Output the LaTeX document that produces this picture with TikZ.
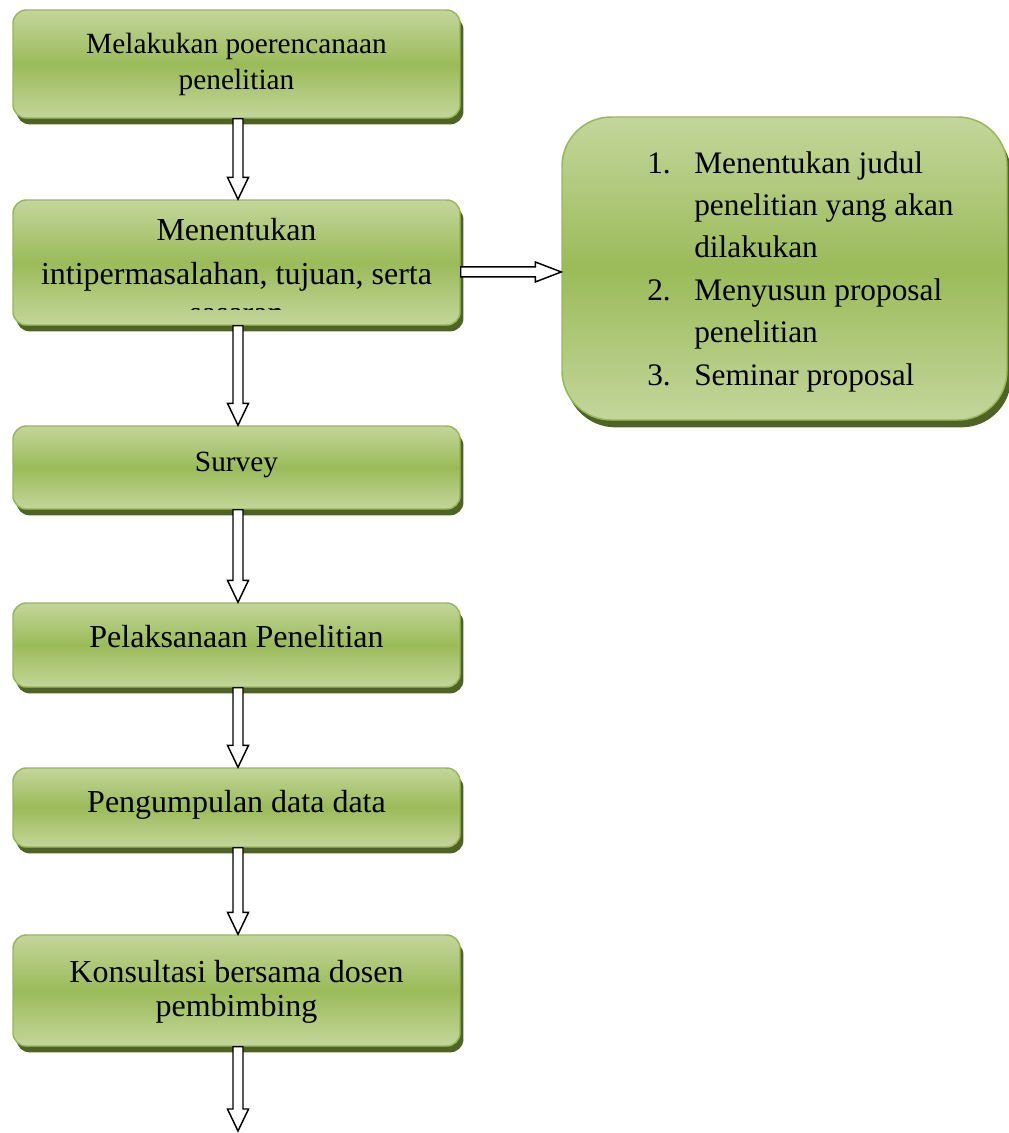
\documentclass[tikz,border=0pt]{standalone}
\usepackage{fontspec}
\setmainfont{Liberation Serif}
\usetikzlibrary{calc,shadows}
\definecolor{gLight}{HTML}{C3D69B}
\definecolor{gMid}{HTML}{9BBB59}
\definecolor{gEdge}{HTML}{97B854}
\definecolor{gShadow}{HTML}{4F6228}
\tikzset{
  greenbox/.style={rectangle, rounded corners=10pt, draw=gEdge, line width=1.1pt,
    top color=gLight, bottom color=gLight, middle color=gMid,
    minimum width=335.25pt, inner sep=0pt,
    drop shadow={shadow xshift=2.6pt, shadow yshift=-4.8pt, fill=gShadow, opacity=1}},
  boxtext/.style={anchor=base, inner sep=0pt, font=\fontsize{24}{27}\selectfont},
  smalltext/.style={anchor=base, inner sep=0pt, font=\fontsize{22}{26}\selectfont},
  listtext/.style={anchor=base west, inner sep=0pt, font=\fontsize{23.5}{28}\selectfont},
  blockarr/.style={draw=black, fill=white, line width=1.1pt, line join=miter},
}
\newcommand\varrow[2]{%
  \draw[blockarr] let \p1=($(#1.south)+(1.5,0)$), \p2=(#2) in
    (\x1-3.75pt,\y1) -- (\x1-3.75pt,\y2+16.5pt) -- (\x1-7.9pt,\y2+16.5pt) --
    (\x1,\y2) -- (\x1+7.9pt,\y2+16.5pt) -- (\x1+3.75pt,\y2+16.5pt) --
    (\x1+3.75pt,\y1) -- cycle;}
\begin{document}
\begin{tikzpicture}[x=0.75pt,y=-0.75pt]
\useasboundingbox (0,0) rectangle (1009,1133);
% boxes
\node[greenbox, minimum height=81pt]    (b1) at (236.5,64) {};
\node[greenbox, minimum height=93.75pt] (b2) at (236.5,262.5) {};
\node[greenbox, minimum height=62.25pt] (b3) at (236.5,467.5) {};
\node[greenbox, minimum height=63pt]    (b4) at (236.5,645) {};
\node[greenbox, minimum height=59.25pt] (b5) at (236.5,807.5) {};
\node[greenbox, minimum height=83.25pt] (b6) at (236.5,990.5) {};
\node[greenbox, rounded corners=37pt, minimum width=333.75pt, minimum height=227.25pt,
  drop shadow={shadow xshift=3pt, shadow yshift=-5.5pt, fill=gShadow, opacity=1}] (rb) at (784.5,268.5) {};
% texts
\node[smalltext] (t1a) at (236.5,53) {Melakukan poerencanaan};
\node[smalltext] (t1b) at (236.5,89) {penelitian};
\node[boxtext] (t2a) at (236.5,240) {Menentukan};
\node[boxtext] (t2b) at (236.5,284) {intipermasalahan, tujuan, serta};
\begin{scope}
  \clip (13,290) rectangle (460,309.5);
  \node[boxtext] (t2c) at (236.5,323) {sasaran};
\end{scope}
\node[smalltext] (t3) at (236.5,471) {Survey};
\node[boxtext] (t4) at (236.5,647) {Pelaksanaan Penelitian};
\node[boxtext] (t5) at (236.5,812) {Pengumpulan data data};
\node[boxtext] (t6a) at (236.5,982) {Konsultasi bersama dosen};
\node[boxtext] (t6b) at (236.5,1016) {pembimbing};
% list
\node[listtext] (n1) at (647,173) {1.};
\node[listtext] (l1a) at (694,173) {Menentukan judul};
\node[listtext] (l1b) at (694,215) {penelitian yang akan};
\node[listtext] (l1c) at (694,257) {dilakukan};
\node[listtext] (n2) at (647,300) {2.};
\node[listtext] (l2a) at (694,300) {Menyusun proposal};
\node[listtext] (l2b) at (694,342) {penelitian};
\node[listtext] (n3) at (647,385) {3.};
\node[listtext] (l3a) at (694,385) {Seminar proposal};
% arrows
\coordinate (endpt) at (236.5,1131);
\varrow{b1}{b2.north}
\varrow{b2}{b3.north}
\varrow{b3}{b4.north}
\varrow{b4}{b5.north}
\varrow{b5}{b6.north}
\varrow{b6}{endpt}
\draw[blockarr] let \p1=(b2.east), \p2=(rb.west) in
  (\x1,\y2-2.6pt-3.75pt) -- (\x2-19.5pt,\y2-2.6pt-3.75pt) -- (\x2-19.5pt,\y2-2.6pt-7.5pt) --
  (\x2,\y2-2.6pt) -- (\x2-19.5pt,\y2-2.6pt+7.5pt) -- (\x2-19.5pt,\y2-2.6pt+3.75pt) --
  (\x1,\y2-2.6pt+3.75pt) -- cycle;
\end{tikzpicture}
\end{document}
